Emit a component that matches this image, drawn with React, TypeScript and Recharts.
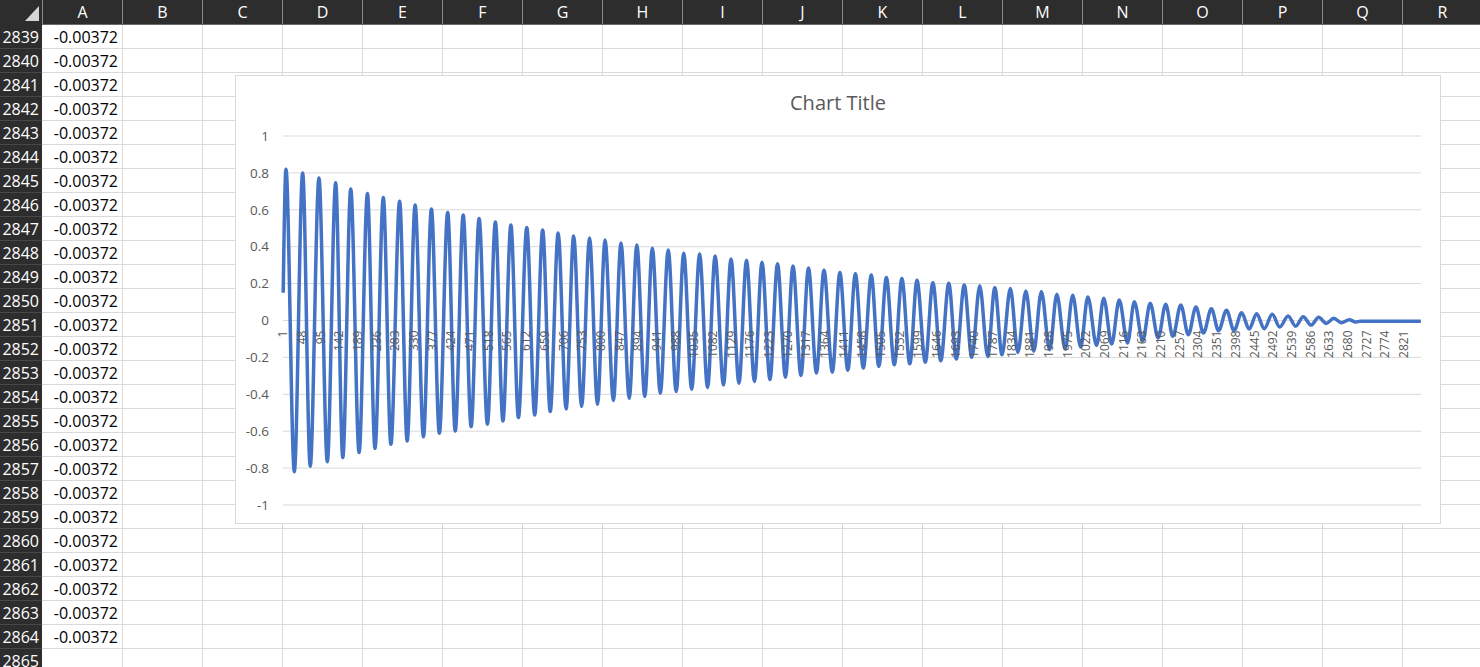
import React from 'react'
import { LineChart, Line, XAxis, YAxis, CartesianGrid } from 'recharts'

// peaks and troughs of the waveform (row index, value)
const extremaIndex = [
  1, 8, 29, 50, 69, 91, 112, 133, 151, 171, 192, 213, 232, 253, 272, 294, 313, 333, 354, 374,
  394, 415, 434, 454, 474, 494, 515, 535, 554, 574, 593, 614, 634, 654, 673, 693, 713, 732, 752, 772,
  792, 811, 832, 851, 872, 891, 911, 930, 950, 970, 990, 1009, 1029, 1049, 1069, 1088, 1109, 1128, 1148, 1167,
  1187, 1206, 1226, 1245, 1265, 1284, 1304, 1323, 1343, 1362, 1383, 1402, 1422, 1441, 1461, 1481, 1500, 1519, 1539, 1558,
  1578, 1596, 1617, 1636, 1656, 1676, 1695, 1715, 1734, 1754, 1774, 1792, 1810, 1831, 1850, 1870, 1890, 1909, 1930, 1948,
  1969, 1988, 2008, 2026, 2048, 2066, 2086, 2105, 2126, 2143, 2164, 2183, 2203, 2222, 2240, 2260, 2279, 2298, 2317, 2337,
  2355, 2375, 2394, 2413, 2432, 2451, 2470, 2490, 2509, 2530, 2549, 2568, 2588, 2607, 2626, 2645, 2664, 2684, 2700, 2712,
  2864,
]

const extremaValue = [
  0.15, 0.82, -0.82, 0.8, -0.79, 0.773, -0.765, 0.746, -0.743, 0.713, -0.716, 0.689, -0.693, 0.667, -0.671, 0.646, -0.653, 0.626, -0.63, 0.604,
  -0.611, 0.586, -0.599, 0.572, -0.575, 0.553, -0.562, 0.534, -0.545, 0.517, -0.526, 0.504, -0.512, 0.49, -0.493, 0.474, -0.479, 0.458, -0.466, 0.447,
  -0.454, 0.436, -0.434, 0.42, -0.421, 0.409, -0.412, 0.392, -0.394, 0.382, -0.385, 0.365, -0.372, 0.36, -0.363, 0.349, -0.349, 0.334, -0.34, 0.327,
  -0.33, 0.316, -0.32, 0.307, -0.307, 0.295, -0.298, 0.284, -0.285, 0.273, -0.28, 0.26, -0.27, 0.254, -0.258, 0.246, -0.249, 0.233, -0.24, 0.227,
  -0.235, 0.218, -0.226, 0.205, -0.218, 0.202, -0.209, 0.193, -0.2, 0.188, -0.195, 0.178, -0.186, 0.173, -0.173, 0.16, -0.167, 0.157, -0.159, 0.142,
  -0.155, 0.137, -0.144, 0.128, -0.135, 0.121, -0.128, 0.111, -0.122, 0.102, -0.11, 0.093, -0.095, 0.088, -0.086, 0.084, -0.077, 0.073, -0.068, 0.064,
  -0.055, 0.055, -0.055, 0.042, -0.046, 0.037, -0.045, 0.034, -0.035, 0.025, -0.031, 0.02, -0.025, 0.017, -0.016, 0.012, -0.012, 0.004, -0.008, -0.00372,
  -0.00372,
]

const xTicks = [
  1, 48, 95, 142, 189, 236, 283, 330, 377, 424, 471, 518, 565, 612, 659, 706, 753, 800, 847, 894,
  941, 988, 1035, 1082, 1129, 1176, 1223, 1270, 1317, 1364, 1411, 1458, 1505, 1552, 1599, 1646, 1693, 1740, 1787, 1834,
  1881, 1928, 1975, 2022, 2069, 2116, 2163, 2210, 2257, 2304, 2351, 2398, 2445, 2492, 2539, 2586, 2633, 2680, 2727, 2774,
  2821,
]
const yTicks = [1, 0.8, 0.6, 0.4, 0.2, 0, -0.2, -0.4, -0.6, -0.8, -1]

const columns = ['A', 'B', 'C', 'D', 'E', 'F', 'G', 'H', 'I', 'J', 'K', 'L', 'M', 'N', 'O', 'P', 'Q', 'R']
const firstRow = 2839
const lastRow = 2865
const cellA = '-0.00372'

const data = extremaIndex.map((i, k) => ({ i, v: extremaValue[k] }))

// sheet geometry
const HDR_W = 42
const HDR_H = 24
const COL_W = 80
const ROW_H = 24
const SHEET_FONT = '"Open Sans", sans-serif'

// chart geometry
const CHART_W = 1204
const CHART_H = 447
const PLOT_TOP = 60
const X_AXIS_H = 18
const PLOT_H = CHART_H - PLOT_TOP - X_AXIS_H
const ZERO_Y = PLOT_TOP + PLOT_H / 2

const XTick = ({ x, payload }: any) => {
  const y = ZERO_Y + 10
  return (
    <text
      x={x}
      y={y}
      transform={`rotate(-90 ${x} ${y})`}
      textAnchor="end"
      dy="0.35em"
      fill="#595959"
      fontSize={12}
      fontFamily="Open Sans"
    >
      {payload.value}
    </text>
  )
}

const Sheet = () => {
  const rows = Array.from({ length: lastRow - firstRow + 1 }, (_, k) => firstRow + k)
  return (
    <>
      {/* column header bar */}
      <div style={{ position: 'absolute', left: 0, top: 0, width: 1480, height: HDR_H, background: '#2d2d2d' }} />
      <svg style={{ position: 'absolute', left: 0, top: 0 }} width={HDR_W} height={HDR_H}>
        <polygon points="39,6 39,21 25,21" fill="#d6d6d6" />
      </svg>
      {columns.map((c, k) => (
        <div
          key={c}
          style={{
            position: 'absolute',
            left: HDR_W + k * COL_W,
            top: 0,
            width: COL_W,
            height: HDR_H,
            lineHeight: `${HDR_H}px`,
            textAlign: 'center',
            color: '#ffffff',
            fontFamily: SHEET_FONT,
            fontSize: 16,
            borderLeft: '1px solid #8a8a8a',
            boxSizing: 'border-box',
          }}
        >
          {c}
        </div>
      ))}
      <div style={{ position: 'absolute', left: 0, top: HDR_H, width: 1480, height: 1, background: '#6a6a6a' }} />

      {/* row headers and cells */}
      {rows.map((r, k) => {
        const top = HDR_H + k * ROW_H
        return (
          <React.Fragment key={r}>
            <div
              style={{
                position: 'absolute',
                left: 0,
                top,
                width: HDR_W,
                height: ROW_H,
                background: '#2d2d2d',
                borderTop: k === 0 ? 'none' : '1px solid #474747',
                boxSizing: 'border-box',
              }}
            />
            <div
              style={{
                position: 'absolute',
                left: 0,
                top: top + 1,
                width: HDR_W - 3,
                height: ROW_H,
                lineHeight: `${ROW_H}px`,
                textAlign: 'right',
                color: '#ffffff',
                fontFamily: SHEET_FONT,
                fontSize: 16,
              }}
            >
              {r}
            </div>
            <div style={{ position: 'absolute', left: HDR_W, top: top + ROW_H, width: 1480 - HDR_W, height: 1, background: '#dadada' }} />
            {r < lastRow && (
              <div
                style={{
                  position: 'absolute',
                  left: HDR_W,
                  top: top + 1,
                  width: COL_W - 4,
                  height: ROW_H,
                  lineHeight: `${ROW_H}px`,
                  textAlign: 'right',
                  color: '#000000',
                  fontFamily: SHEET_FONT,
                  fontSize: 16,
                }}
              >
                {cellA}
              </div>
            )}
          </React.Fragment>
        )
      })}
      {columns.map((c, k) => (
        <div
          key={'v' + c}
          style={{ position: 'absolute', left: HDR_W + (k + 1) * COL_W, top: HDR_H + 1, width: 1, height: 667, background: '#dadada' }}
        />
      ))}
    </>
  )
}

export default function App() {
  return (
    <div style={{ position: 'absolute', left: 0, top: 0, width: 1480, height: 667, overflow: 'hidden', background: '#ffffff' }}>
      <Sheet />
      <div
        style={{
          position: 'absolute',
          left: 235,
          top: 75,
          width: CHART_W + 2,
          height: CHART_H + 2,
          border: '1px solid #d9d9d9',
          boxSizing: 'border-box',
          background: '#ffffff',
        }}
      >
        <div
          style={{
            position: 'absolute',
            left: 0,
            top: 13,
            width: CHART_W,
            lineHeight: '28px',
            textAlign: 'center',
            color: '#595959',
            fontFamily: '"Open Sans", sans-serif',
            fontSize: 20,
          }}
        >
          Chart Title
        </div>
        <LineChart width={CHART_W} height={CHART_H} data={data} margin={{ top: PLOT_TOP, right: 19, bottom: 0, left: 0 }}>
          <CartesianGrid vertical={false} stroke="#d9d9d9" />
          <YAxis
            type="number"
            domain={[-1, 1]}
            ticks={yTicks}
            interval={0}
            width={47}
            axisLine={false}
            tickLine={false}
            tickSize={0}
            tickMargin={14}
            tick={{ fill: '#595959', fontSize: 13.5, fontFamily: 'Open Sans' }}
          />
          <Line
            type="monotone"
            dataKey="v"
            stroke="#4472C4"
            strokeWidth={3.5}
            dot={false}
            isAnimationActive={false}
          />
          <XAxis
            dataKey="i"
            type="number"
            domain={[0.5, 2864.5]}
            ticks={xTicks}
            interval={0}
            height={X_AXIS_H}
            axisLine={false}
            tickLine={false}
            tick={<XTick />}
          />
        </LineChart>
      </div>
    </div>
  )
}
